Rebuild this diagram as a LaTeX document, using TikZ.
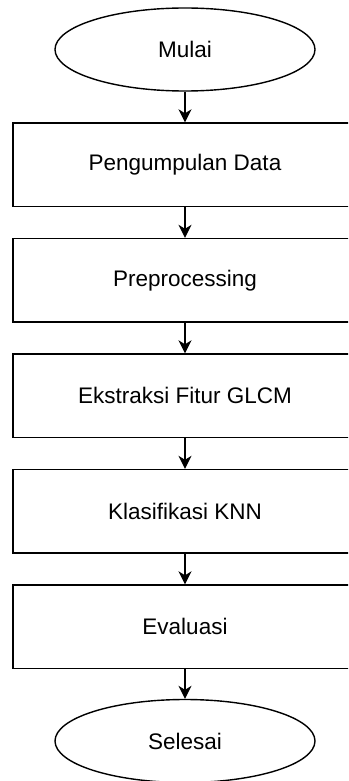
\documentclass[tikz,border=0pt]{standalone}
\usepackage{fontspec}
\setmainfont{Liberation Sans}
\usetikzlibrary{shapes.geometric,arrows.meta}

\tikzset{
  flowline/.style={line width=1.4pt, draw=black},
  terminal/.style={flowline, ellipse, minimum width=260pt, minimum height=83pt,
    inner sep=0pt, font=\fontsize{22.5pt}{27pt}\selectfont},
  process/.style={flowline, rectangle, minimum width=344pt, minimum height=83.5pt,
    inner sep=0pt, font=\fontsize{22.5pt}{27pt}\selectfont},
  flowarrow/.style={flowline, -{Stealth[length=13pt, width=13pt, inset=4pt]}}
}

\begin{document}
\begin{tikzpicture}[x=1pt, y=-1pt]
  \useasboundingbox (0,0) rectangle (348,781);
  \clip (0,0) rectangle (348,781);

  % start and end terminals
  \node[terminal] (start) at (185,49.5) {Mulai};
  \node[terminal] (stop)  at (185,741)  {Selesai};

  % processing steps
  \node[process] (collect)  at (185,164.75) {Pengumpulan Data};
  \node[process] (prep)     at (185,280.25) {Preprocessing};
  \node[process] (glcm)     at (185,395.75) {Ekstraksi Fitur GLCM};
  \node[process] (knn)      at (185,511.25) {Klasifikasi KNN};
  \node[process] (eval)     at (185,626.75) {Evaluasi};

  % flow connectors
  \draw[flowarrow] (start.south)   -- (collect.north);
  \draw[flowarrow] (collect.south) -- (prep.north);
  \draw[flowarrow] (prep.south)    -- (glcm.north);
  \draw[flowarrow] (glcm.south)    -- (knn.north);
  \draw[flowarrow] (knn.south)     -- (eval.north);
  \draw[flowarrow] (eval.south)    -- (stop.north);
\end{tikzpicture}
\end{document}
